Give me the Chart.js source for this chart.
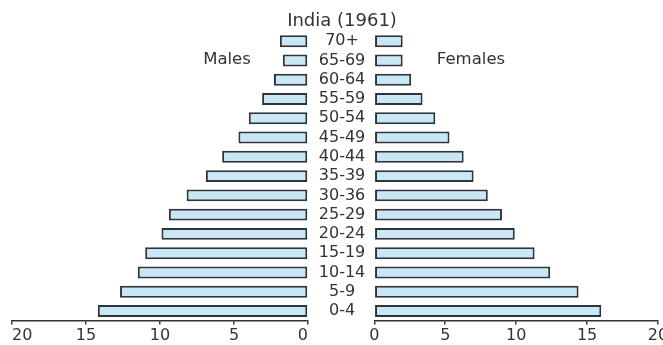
<!DOCTYPE html>
<html><head><meta charset="utf-8">
<script src="https://cdn.jsdelivr.net/npm/chart.js@4"></script>
<style>
html,body{margin:0;padding:0;width:663px;height:345px;overflow:hidden;background:#fff;}
#wrap{position:relative;width:663px;height:345px;overflow:hidden;}
.lbl{position:absolute;font-family:"DejaVu Sans";color:#333;white-space:nowrap;transform:translateX(-50%);}
#cl{position:absolute;left:0;top:0;width:310px;height:345px;}
#cr{position:absolute;left:308px;top:0;width:372px;height:345px;}
</style></head><body>
<div id="wrap">
<canvas id="cl" width="310" height="345"></canvas>
<canvas id="cr" width="372" height="345"></canvas>
<div class="lbl" style="left:342px;top:11px;font-size:18px;line-height:18px;">India (1961)</div>
<div class="lbl" style="left:227px;top:51px;font-size:16.5px;line-height:16.5px;">Males</div>
<div class="lbl" style="left:471px;top:51px;font-size:16.5px;line-height:16.5px;">Females</div>
</div>
<script>
const ageGroups = ['70+','65-69','60-64','55-59','50-54','45-49','40-44','35-39','30-36','25-29','20-24','15-19','10-14','5-9','0-4'];
const malePct   = [1.9, 1.7, 2.3, 3.1, 4.0, 4.7, 5.8, 6.9, 8.2, 9.4, 9.9, 11.0, 11.5, 12.7, 14.2];
const femalePct = [2.0, 2.0, 2.6, 3.4, 4.3, 5.3, 6.3, 7.0, 8.0, 9.0, 9.9, 11.3, 12.4, 14.4, 16.0];
const axisMax = 20, axisStep = 5;

const FONT = 'DejaVu Sans';
const TEXT = '#333333';
const BAR_FILL = '#c8e8f8';
const BAR_EDGE = '#2f3438';

function dataset(values){
  return {
    data: values,
    backgroundColor: BAR_FILL,
    borderColor: BAR_EDGE,
    borderWidth: 2,
    borderSkipped: false,
    barPercentage: 0.62,
    categoryPercentage: 1
  };
}
function xAxis(min, max, align){
  return {
    type: 'linear', min: min, max: max,
    ticks: { stepSize: axisStep, align: align, font: {family: FONT, size: 16}, color: TEXT, padding: 2,
             callback: v => String(Math.abs(v)) },
    grid: { drawOnChartArea: false, drawTicks: true, tickLength: 4, color: '#333', lineWidth: 1.5 },
    border: { display: true, color: '#333', width: 1.5 },
    afterFit(s){ s.height = 24.4; }
  };
}

// Males drawn leftwards: the pyramid's left half uses the negated shares
new Chart(document.getElementById('cl'), {
  type: 'bar',
  data: { labels: ageGroups, datasets: [dataset(malePct.map(v => -v))] },
  options: {
    indexAxis: 'y', responsive: false, animation: false,
    layout: { padding: { left: 12, right: 2, top: 31.6, bottom: 0 } },
    plugins: { legend: { display: false }, tooltip: { enabled: false } },
    scales: { x: xAxis(-axisMax, 0, 'inner'), y: { display: false } }
  }
});

new Chart(document.getElementById('cr'), {
  type: 'bar',
  data: { labels: ageGroups, datasets: [dataset(femalePct)] },
  options: {
    indexAxis: 'y', responsive: false, animation: false,
    layout: { padding: { left: 0, right: 22, top: 31.6, bottom: 0 } },
    plugins: { legend: { display: false }, tooltip: { enabled: false } },
    scales: {
      x: xAxis(0, axisMax, 'center'),
      y: {
        ticks: { autoSkip: false, font: {family: FONT, size: 16}, color: TEXT, crossAlign: 'center', padding: 9 },
        grid: { display: false, drawTicks: false },
        border: { display: false },
        afterFit(s){ s.width = 66.3; }
      }
    }
  }
});
</script>
</body></html>
